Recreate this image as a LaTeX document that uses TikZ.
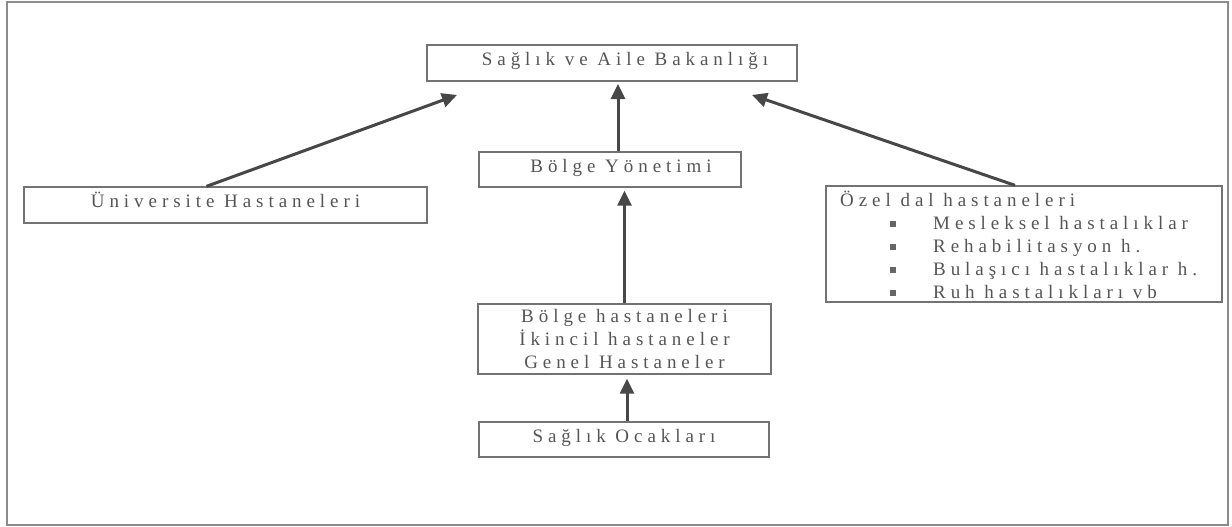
\documentclass[tikz,border=0pt]{standalone}
\usepackage{fontspec}
\setmainfont{Liberation Serif}
\newfontfamily\spacedfont[LetterSpace=26]{Liberation Serif}
\usetikzlibrary{arrows.meta}
\definecolor{txtgray}{HTML}{555555}
\definecolor{framegray}{HTML}{8C8C8C}
\definecolor{boxgray}{HTML}{737373}
\definecolor{arrgray}{HTML}{474747}
\tikzset{
  box/.style={draw=boxgray, line width=1.3pt, rectangle, inner sep=0pt, text=txtgray,
    font=\spacedfont\fontsize{19}{23}\selectfont, align=center},
  onebox/.style={box, text height=6pt, text depth=1pt},
  lbl/.style={inner sep=0pt, text=txtgray, font=\spacedfont\fontsize{19}{23}\selectfont, anchor=base west},
  bul/.style={fill=txtgray!90, minimum size=5.5pt, inner sep=0pt, rectangle},
  conn/.style={draw=arrgray, line width=3pt, -{Triangle[length=15pt,width=14pt]}}
}
\begin{document}
\begin{tikzpicture}[x=1pt,y=-1pt]
\path[use as bounding box] (0,0) rectangle (1232,527);
\draw[framegray, line width=1.6pt] (7,2) rectangle (1228,525);

\node[onebox, minimum width=370pt, minimum height=36pt] (min) at (612,63) {\hspace*{26pt}Sağlık ve Aile Bakanlığı};
\node[onebox, minimum width=262pt, minimum height=35pt] (yon) at (610,169.5) {\hspace*{22pt}Bölge Yönetimi};
\node[onebox, minimum width=403pt, minimum height=36pt] (uni) at (225.5,205) {Üniversite Hastaneleri};
\node[box, minimum width=396pt, minimum height=116pt] (ozel) at (1024,244) {};
\node[box, minimum width=293pt, minimum height=70pt] (bh) at (624.5,339) {Bölge hastaneleri\\İkincil hastaneler\\Genel Hastaneler};
\node[onebox, minimum width=290pt, minimum height=35pt] (ocak) at (624,439.5) {Sağlık Ocakları};

\node[lbl] (o0) at (840,206) {Özel dal hastaneleri};
\node[bul] (b1) at (893,224) {};
\node[bul] (b2) at (893,247) {};
\node[bul] (b3) at (893,270) {};
\node[bul] (b4) at (893,293) {};
\node[lbl] (o1) at (933,229) {Mesleksel hastalıklar};
\node[lbl] (o2) at (933,252) {Rehabilitasyon h.};
\node[lbl] (o3) at (933,275) {Bulaşıcı hastalıklar h.};
\node[lbl] (o4) at (933,298) {Ruh hastalıkları vb};

\coordinate (t1) at (457,95);
\coordinate (t2) at (618,84);
\coordinate (t3) at (752,95);
\draw[conn] ([xshift=-19pt]uni.north) -- (t1);
\draw[conn] ([xshift=8pt]yon.north) -- (t2);
\draw[conn] ([xshift=-9pt]ozel.north) -- (t3);
\draw[conn, shorten >=3pt] (bh.north) -- (bh.north |- yon.south);
\draw[conn, shorten >=4pt] ([xshift=3pt]ocak.north) -- ([xshift=3pt]ocak.north |- bh.south);
\end{tikzpicture}
\end{document}
